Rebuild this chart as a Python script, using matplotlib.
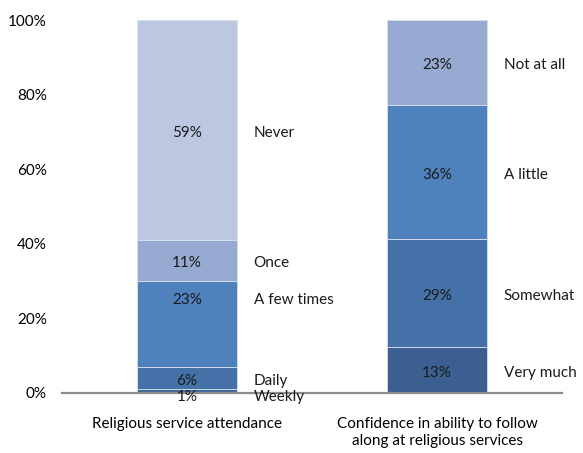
import matplotlib
matplotlib.use("Agg")
import matplotlib.pyplot as plt
import numpy as np

plt.rcParams['font.family'] = ['Lato', 'DejaVu Sans']

categories = ["Religious service attendance",
              "Confidence in ability to follow\nalong at religious services"]

left_names = ["Weekly", "Daily", "A few times", "Once", "Never"]
left_values = [1.0, 6.0, 23.0, 11.0, 59.0]
left_labels = ["1%", "6%", "23%", "11%", "59%"]

right_names = ["Very much", "Somewhat", "A little", "Not at all"]
right_values = [12.4, 28.8, 36.0, 22.8]
right_labels = ["13%", "29%", "36%", "23%"]

left_colors = ["#3F679A", "#4471A8", "#4F81BD", "#95A9D1", "#BCC8E2"]
right_colors = ["#3A5F90", "#4472A8", "#4F81BD", "#95A9D1"]

yticks = [0, 20, 40, 60, 80, 100]

fig = plt.figure(figsize=(5.83, 4.53), dpi=100)
ax = fig.add_axes([62/583, 60/453, 500/583, 373/453])

x = np.arange(len(categories))
width = 0.4
fs = 11

def draw_stack(xpos, values, labels, names, colors, overrides):
    bottom = 0.0
    for i, (v, lab, nm, c) in enumerate(zip(values, labels, names, colors)):
        ax.bar(xpos, v, width, bottom=bottom, color=c, edgecolor="#D6E0EE",
               linewidth=0.6, zorder=2)
        yc = bottom + v / 2
        yc = overrides.get(nm, yc)
        off = -4 if nm == "Weekly" else -2
        ax.annotate(lab, (xpos, yc), xytext=(0, off), textcoords="offset points",
                    ha="center", va="center", fontsize=fs, color="#1a1a1a",
                    zorder=4)
        ax.annotate(nm, (xpos + width / 2, yc), xytext=(12, off),
                    textcoords="offset points", ha="left", va="center",
                    fontsize=fs, color="#1a1a1a", zorder=4)
        bottom += v

draw_stack(x[0], left_values, left_labels, left_names, left_colors,
           {"A few times": 25.8})
draw_stack(x[1], right_values, right_labels, right_names, right_colors, {})

ax.set_xlim(-0.5, 1.5)
ax.set_ylim(0, 100)
ax.set_yticks(yticks)
ax.set_yticklabels([f"{t}%" for t in yticks], fontsize=fs)
ax.tick_params(axis="y", length=0, pad=11)
ax.tick_params(axis="x", length=0, pad=17)
ax.set_xticks(x)
ax.set_xticklabels(categories, fontsize=fs, linespacing=1.3, va="top")
for s in ["left", "right", "top"]:
    ax.spines[s].set_visible(False)
ax.spines["bottom"].set_color("#8C8C8C")
ax.spines["bottom"].set_linewidth(1.6)
ax.spines["bottom"].set_zorder(3)

fig.savefig("out.png", dpi=100)
